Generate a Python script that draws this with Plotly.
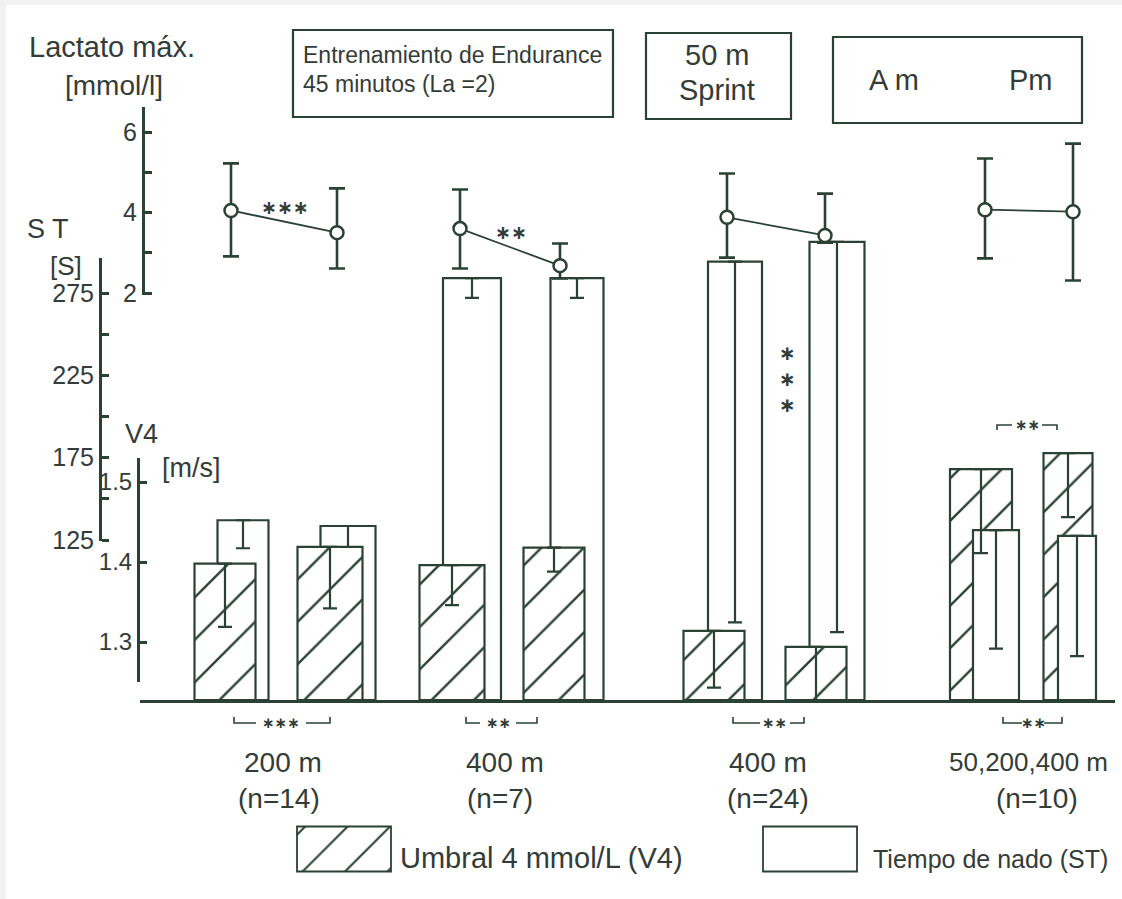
import plotly.graph_objects as go

# ----------------------------- data ---------------------------------------
group_names = ["200 m", "400 m", "400 m", "50,200,400 m"]
group_n = ["(n=14)", "(n=7)", "(n=24)", "(n=10)"]

# two measurements per group, 8 in order (G1a, G1b, G2a, G2b, ...)
v4_mean = [1.398, 1.419, 1.396, 1.418, 1.314, 1.294, 1.516, 1.536]   # V4 [m/s]
v4_sd = [0.079, 0.077, 0.050, 0.030, 0.071, 0.080, 0.105, 0.080]
st_mean = [137.0, 133.5, 284.0, 284.0, 294.0, 306.0, 131.0, 127.5]   # ST [s]
st_sd = [17, 15, 12, 12, 219, 237, 72, 73]
lac_mean = [4.05, 3.50, 3.60, 2.68, 3.88, 3.43, 4.07, 4.02]          # lactato [mmol/l]
lac_sd_up = [1.17, 1.10, 0.97, 0.55, 1.09, 1.04, 1.27, 1.69]
lac_sd_dn = [1.14, 0.89, 0.99, 0.32, 1.00, 0.18, 1.21, 1.71]

lac_ticks = [2, 3, 4, 5, 6]
lac_ticklabels = ["2", "", "4", "", "6"]
st_ticks = [125, 150, 175, 200, 225, 250, 275]
st_ticklabels = ["125", "", "175", "", "225", "", "275"]
v4_ticks = [1.3, 1.4, 1.5]
v4_ticklabels = ["1.3", "1.4", "1.5"]

sig_lactate = ["∗∗∗", "∗∗"]
sig_st_vertical = ["∗", "∗", "∗"]
sig_group4_top = "∗∗"
sig_bottom = ["∗∗∗", "∗∗", "∗∗", "∗∗"]

legend_labels = ["Umbral 4 mmol/L (V4)", "Tiempo de nado (ST)"]

# ----------------------------- layout / style -----------------------------
W, H = 1122, 899
LC = "#2b4136"
TC = "#333c37"
FONT = "Liberation Sans, Arial, Helvetica, sans-serif"
STAR_FONT = "DejaVu Sans, sans-serif"

X0, X1 = 140, 1115          # horizontal extent of the baseline (px)
BASE = 700                   # baseline (px from top)

hatch_x = [225, 330, 452, 554, 714, 816, 981, 1068]
hatch_w = [61, 65, 65, 61, 61, 61, 62, 49]
white_x = [243, 348, 472, 577, 735, 837, 996, 1077]
white_w = [51, 55, 58, 53, 54, 55, 46, 38]
lac_x = [231, 337, 460, 560, 727, 825, 985, 1073]
front_idx = [0, 1, 2, 3, 4, 5]   # hatched bars drawn over the white bars
back_idx = [6, 7]                # hatched bars drawn behind the white bars


def X(p):
    return p / W


def Y(p):
    return 1 - p / H


def calib(v_a, p_a, v_b, p_b):
    k = (p_b - p_a) / (v_b - v_a)
    return lambda p: v_a + (p - p_a) / k


v4_at = calib(1.3, 642, 1.5, 482)
st_at = calib(125, 540, 275, 293)
la_at = calib(2, 293, 6, 132)


def ydom(top, bottom):
    return [Y(bottom), Y(top)]


hatch_marker = dict(
    color="white",
    line=dict(color=LC, width=2.2),
    pattern=dict(shape="/", size=30, solidity=0.08, fgcolor=LC,
                 bgcolor="white", fillmode="replace"),
)
white_marker = dict(color="white", line=dict(color=LC, width=2.2))

v4_base = v4_at(BASE)
st_base = st_at(BASE)

fig = go.Figure()

# subplot 1 (x, y): hatched V4 bars that sit behind the white bars
fig.add_trace(go.Bar(
    x=[hatch_x[i] for i in back_idx],
    y=[v4_mean[i] - v4_base for i in back_idx],
    base=v4_base, width=[hatch_w[i] for i in back_idx],
    marker=hatch_marker, xaxis="x", yaxis="y", hoverinfo="skip"))

# subplot 2 (x2, y2): white ST bars
fig.add_trace(go.Bar(
    x=white_x, y=[m - st_base for m in st_mean], base=st_base, width=white_w,
    marker=white_marker, xaxis="x2", yaxis="y2", hoverinfo="skip",
    error_y=dict(type="data", symmetric=False, array=[0] * len(st_sd),
                 arrayminus=st_sd, color=LC, thickness=2.2, width=7)))

# subplot 3 (x3, y3): hatched V4 bars in front + all V4 error bars
fig.add_trace(go.Bar(
    x=[hatch_x[i] for i in front_idx],
    y=[v4_mean[i] - v4_base for i in front_idx],
    base=v4_base, width=[hatch_w[i] for i in front_idx],
    marker=hatch_marker, xaxis="x3", yaxis="y3", hoverinfo="skip"))
fig.add_trace(go.Scatter(
    x=hatch_x, y=v4_mean, mode="markers",
    marker=dict(size=1, color="rgba(0,0,0,0)"),
    error_y=dict(type="data", symmetric=False, array=[0] * len(v4_sd),
                 arrayminus=v4_sd, color=LC, thickness=2.2, width=7),
    xaxis="x3", yaxis="y3", hoverinfo="skip"))

# subplot 4 (x4, y4): lactate points with their own axis
lx, ly, eu, ed = [], [], [], []
for g in range(4):
    for k in (2 * g, 2 * g + 1):
        lx.append(lac_x[k])
        ly.append(lac_mean[k])
        eu.append(lac_sd_up[k])
        ed.append(lac_sd_dn[k])
    lx.append(None)
    ly.append(None)
    eu.append(None)
    ed.append(None)
fig.add_trace(go.Scatter(
    x=lx, y=ly, mode="lines+markers",
    line=dict(color=LC, width=1.8),
    marker=dict(symbol="circle", size=13, color="white",
                line=dict(color=LC, width=2.5)),
    error_y=dict(type="data", symmetric=False, array=eu, arrayminus=ed,
                 color=LC, thickness=2.6, width=8),
    xaxis="x4", yaxis="y4", cliponaxis=False, hoverinfo="skip"))

# subplots 5, 6: display axes for ST and V4
fig.add_trace(go.Scatter(x=[], y=[], xaxis="x5", yaxis="y5", hoverinfo="skip"))
fig.add_trace(go.Scatter(x=[], y=[], xaxis="x6", yaxis="y6", hoverinfo="skip"))

# subplot 7: legend swatches
fig.add_trace(go.Bar(
    x=[344, 810], y=[1, 1], base=0, width=[94, 94],
    marker=dict(color="white", line=dict(color=LC, width=1.8),
                pattern=dict(shape=["/", ""], size=30, solidity=0.07,
                             fgcolor=LC, bgcolor="white", fillmode="replace")),
    xaxis="x7", yaxis="y7", hoverinfo="skip"))


def xax(anchor, visible=False):
    return dict(domain=[X(X0), X(X1)], range=[X0, X1], anchor=anchor,
                visible=visible, showgrid=False, zeroline=False,
                automargin=False, fixedrange=True)


def yax_hidden(top, bottom, conv):
    return dict(domain=ydom(top, bottom), range=[conv(bottom), conv(top)],
                visible=False, showgrid=False, zeroline=False,
                automargin=False, fixedrange=True)


def yax_shown(top, bottom, conv, pos, tv, tt, fsize):
    return dict(domain=ydom(top, bottom), range=[conv(bottom), conv(top)],
                anchor="free", position=X(pos), side="left",
                showline=True, linecolor=LC, linewidth=3,
                ticks="inside", ticklen=7, tickwidth=2.5, tickcolor=LC,
                tickvals=tv, ticktext=tt, showgrid=False, zeroline=False,
                tickfont=dict(family=FONT, size=fsize, color=TC),
                automargin=False, fixedrange=True)


main_x = xax("y", visible=True)
main_x.update(showline=True, linecolor=LC, linewidth=2.6, ticks="",
              showticklabels=False)

layout = dict(
    width=W, height=H, margin=dict(l=0, r=0, t=0, b=0, pad=0),
    autosize=False,
    font=dict(family=FONT, color=TC),
    paper_bgcolor="#f2f2f2", plot_bgcolor="rgba(0,0,0,0)",
    showlegend=False, hovermode=False, barmode="overlay",
    xaxis=main_x,
    yaxis=yax_hidden(440, BASE, v4_at),
    xaxis2=xax("y2"), yaxis2=yax_hidden(225, BASE, st_at),
    xaxis3=xax("y3"), yaxis3=yax_hidden(440, BASE, v4_at),
    xaxis4=xax("y4"),
    yaxis4=yax_shown(107, 295, la_at, 143, lac_ticks, lac_ticklabels, 25),
    xaxis5=xax("y5"),
    yaxis5=yax_shown(258, 541, st_at, 100, st_ticks, st_ticklabels, 25),
    xaxis6=xax("y6"),
    yaxis6=yax_shown(458, 682, v4_at, 138, v4_ticks, v4_ticklabels, 24),
    xaxis7=xax("y7"),
    yaxis7=dict(domain=ydom(822, 876), range=[-0.1, 1.1], visible=False,
                showgrid=False, zeroline=False, automargin=False,
                fixedrange=True),
)
fig.update_layout(**layout)

# ----------------------------- text ---------------------------------------
ann = []


def txt(s, x, y, size, xanchor="center", family=FONT):
    ann.append(dict(text=s, x=X(x), y=Y(y), xref="paper", yref="paper",
                    xanchor=xanchor, yanchor="middle", showarrow=False,
                    font=dict(family=family, size=size, color=TC)))


# axis titles
txt("Lactato máx.", 112, 47, 29)
txt("[mmol/l]", 114, 85, 28)
txt("S T", 48, 229, 27)
txt("[S]", 66, 266, 26)
txt("V4", 141, 434, 27)
txt("[m/s]", 191, 468, 27)

# panel boxes
txt("Entrenamiento de Endurance", 301, 55, 23, xanchor="left")
txt("45 minutos (La =2)", 301, 84, 23, xanchor="left")
txt("50 m", 717, 55, 29)
txt("Sprint", 717, 90, 29)
txt("A m", 894, 80, 29)
txt("Pm", 1031, 80, 29)

# group labels
name_x = [283, 505, 768, 1028]
n_x = [279, 500, 768, 1037]
name_size = [28, 28, 28, 26]
for g in range(4):
    txt(group_names[g], name_x[g], 762, name_size[g])
    txt(group_n[g], n_x[g], 798, 28)

# legend
txt(legend_labels[0], 398, 858, 29, xanchor="left")
txt(legend_labels[1], 871, 859, 25, xanchor="left")

# significance marks
txt("<b>" + sig_lactate[0] + "</b>", 285, 207, 19, family=STAR_FONT)
txt("<b>" + sig_lactate[1] + "</b>", 511, 232, 19, family=STAR_FONT)
for s, yy in zip(sig_st_vertical, [353, 379, 405]):
    txt("<b>" + s + "</b>", 787, yy, 20, family=STAR_FONT)
txt("<b>" + sig_group4_top + "</b>", 1027, 425, 15, family=STAR_FONT)

bracket_x = [(234, 256, 306, 330), (466, 480, 516, 537),
             (733, 760, 790, 804), (1003, 1022, 1044, 1062)]
for (a, b, c, d), s in zip(bracket_x, sig_bottom):
    txt("<b>" + s + "</b>", (b + c) / 2, 723, 15, family=STAR_FONT)

fig.update_layout(annotations=ann)

# ----------------------------- shapes -------------------------------------
shapes = [dict(type="rect", xref="paper", yref="paper", x0=X(6), x1=1,
               y0=0, y1=Y(5), fillcolor="white", line=dict(width=0),
               layer="below")]


def rect(x0, y0, x1, y1):
    shapes.append(dict(type="rect", xref="paper", yref="paper",
                       x0=X(x0), x1=X(x1), y0=Y(y1), y1=Y(y0),
                       line=dict(color=LC, width=2.2)))


rect(293, 30, 613, 117)
rect(646, 33, 791, 119)
rect(833, 37, 1082, 123)


def bracket(x0, xs0, xs1, x1, y, tick):
    p = (f"M{X(x0)},{Y(y + tick)} L{X(x0)},{Y(y)} L{X(xs0)},{Y(y)} "
         f"M{X(xs1)},{Y(y)} L{X(x1)},{Y(y)} L{X(x1)},{Y(y + tick)}")
    shapes.append(dict(type="path", xref="paper", yref="paper", path=p,
                       line=dict(color=LC, width=1.6)))


for (a, b, c, d) in bracket_x:
    bracket(a, b, c, d, 723, -6)
bracket(997, 1012, 1042, 1057, 425, 5)

fig.update_layout(shapes=shapes)

fig.write_html(
    "out.html",
    config={"displayModeBar": False},
    post_script="document.body.style.margin='0';"
                "document.body.style.overflow='hidden';",
)
